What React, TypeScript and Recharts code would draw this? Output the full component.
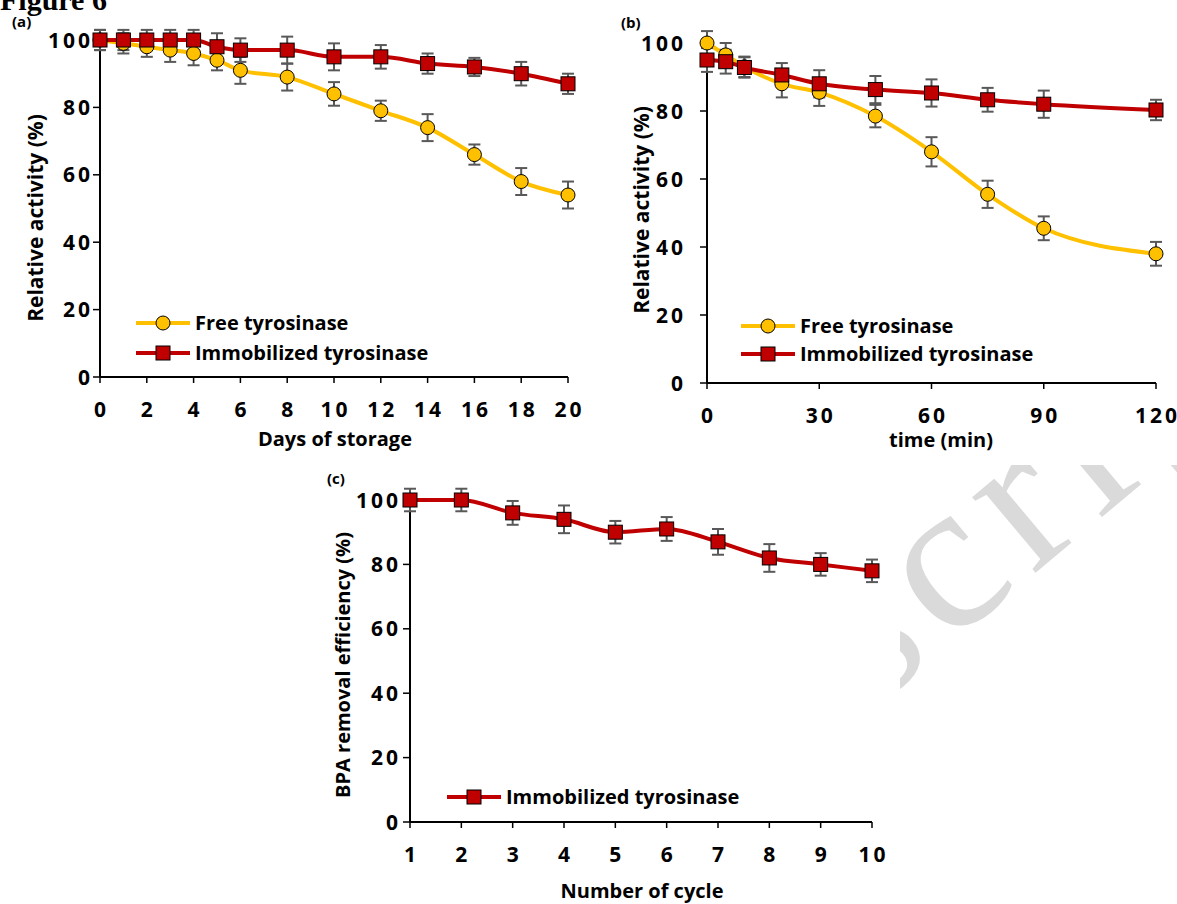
import React from 'react';
import { LineChart, Line, XAxis, YAxis, ErrorBar, ReferenceLine } from 'recharts';

// (a) storage stability
const daysA = [0, 1, 2, 3, 4, 5, 6, 8, 10, 12, 14, 16, 18, 20];
const freeA = [100, 99, 98, 97, 96, 94, 91, 89, 84, 79, 74, 66, 58, 54];
const freeErrA = [3, 3, 3, 3.5, 3.5, 3, 4, 4, 3.5, 3, 4, 3, 4, 4];
const immA = [100, 100, 100, 100, 100, 98, 97, 97, 95, 95, 93, 92, 90, 87];
const immErrA = [3, 3, 3, 3, 3, 4, 3.5, 4, 4, 3.5, 3, 2.7, 3.5, 3];

// (b) activity over time
const timeB = [0, 5, 10, 20, 30, 45, 60, 75, 90, 120];
const freeB = [100, 96.5, 93, 88, 85.5, 78.5, 68, 55.5, 45.5, 38];
const freeErrB = [3.5, 3.5, 3, 4, 4, 3.3, 4.3, 4, 3.5, 3.5];
const immB = [95, 94.5, 92.8, 90.6, 88, 86.3, 85.3, 83.3, 82, 80.3];
const immErrB = [3.5, 3.5, 3, 3.5, 4, 4, 4, 3.5, 4, 3];

// (c) reuse cycles
const cycleC = [1, 2, 3, 4, 5, 6, 7, 8, 9, 10];
const immC = [100, 100, 96, 94, 90, 91, 87, 82, 80, 78];
const immErrC = [3.5, 3.5, 3.7, 4.3, 3.5, 3.7, 4, 4.3, 3.5, 3.5];

const yTicks = [0, 20, 40, 60, 80, 100];
const xTicksA = [0, 2, 4, 6, 8, 10, 12, 14, 16, 18, 20];
const xTicksB = [0, 30, 60, 90, 120];
const xTicksC = [1, 2, 3, 4, 5, 6, 7, 8, 9, 10];

const dataA = daysA.map((d, i) => ({ x: d, free: freeA[i], freeErr: freeErrA[i], imm: immA[i], immErr: immErrA[i] }));
const dataB = timeB.map((t, i) => ({ x: t, free: freeB[i], freeErr: freeErrB[i], imm: immB[i], immErr: immErrB[i] }));
const dataC = cycleC.map((c, i) => ({ x: c, imm: immC[i], immErr: immErrC[i] }));

const FONT = "'Open Sans', sans-serif";
const YELLOW = '#FFC000';
const RED = '#C00000';
const GREY = '#595959';

const tickStyle = { fontFamily: FONT, fontWeight: 700, fontSize: 21, letterSpacing: 3, fill: '#000' };

const yTick = (shift: number) => (p: any) => (
  <text x={p.x + shift} y={p.y} dy="0.36em" textAnchor="end" style={tickStyle}>
    {p.payload.value}
  </text>
);

const xTick = (p: any) => (
  <text x={p.x + 1.5} y={p.y} dy={34} textAnchor="middle" style={tickStyle}>
    {p.payload.value}
  </text>
);

const squareDot = (p: any) => {
  if (p.cx == null || p.cy == null) return <g key={`sq-${p.index}`} />;
  return (
    <rect key={`sq-${p.index}`} x={p.cx - 7} y={p.cy - 7} width={14} height={14}
      fill={RED} stroke="#000" strokeWidth={1} />
  );
};

const circleDot = { r: 7, fill: YELLOW, stroke: '#000', strokeWidth: 1 };

interface PanelProps {
  data: any[];
  width: number;
  height: number;
  margin: { top: number; right: number; bottom: number; left: number };
  xDomain: [number, number];
  xTicks: number[];
  yShift: number;
  showFree: boolean;
}

function Panel({ data, width, height, margin, xDomain, xTicks, yShift, showFree }: PanelProps) {
  return (
    <LineChart width={width} height={height} data={data} margin={margin}>
      <XAxis
        type="number"
        dataKey="x"
        domain={xDomain}
        ticks={xTicks}
        interval={0}
        height={60}
        axisLine={{ stroke: '#000', strokeWidth: 2 }}
        tickLine={{ stroke: '#000', strokeWidth: 1.5 }}
        tickSize={6}
        tickMargin={0}
        tick={xTick}
      />
      <YAxis
        type="number"
        domain={[0, 110]}
        ticks={yTicks}
        interval={0}
        width={60}
        axisLine={false}
        tickLine={{ stroke: '#000', strokeWidth: 1.5 }}
        tickSize={7}
        tickMargin={0}
        tick={yTick(yShift)}
      />
      {/* y axis line only up to 100, the extra headroom keeps error bars unclipped */}
      <ReferenceLine segment={[{ x: xDomain[0], y: 0 }, { x: xDomain[0], y: 100 }]} stroke="#000" strokeWidth={2} />
      {showFree && (
        <Line type="monotone" dataKey="free" stroke={YELLOW} strokeWidth={4} dot={circleDot}
          activeDot={false} isAnimationActive={false}>
          <ErrorBar dataKey="freeErr" direction="y" width={6} stroke={GREY} strokeWidth={2} />
        </Line>
      )}
      <Line type="monotone" dataKey="imm" stroke={RED} strokeWidth={4} dot={squareDot}
        activeDot={false} isAnimationActive={false}>
        <ErrorBar dataKey="immErr" direction="y" width={6} stroke={GREY} strokeWidth={2} />
      </Line>
    </LineChart>
  );
}

const labelStyle = { fontFamily: FONT, fontWeight: 700, fill: '#000' } as const;

function LegendRow({ x, y, kind, text }: { x: number; y: number; kind: 'free' | 'imm'; text: string }) {
  const color = kind === 'free' ? YELLOW : RED;
  return (
    <g>
      <line x1={x} x2={x + 54} y1={y} y2={y} stroke={color} strokeWidth={4} />
      {kind === 'free' ? (
        <circle cx={x + 27} cy={y} r={7} fill={YELLOW} stroke="#000" strokeWidth={1} />
      ) : (
        <rect x={x + 20} y={y - 7} width={14} height={14} fill={RED} stroke="#000" strokeWidth={1} />
      )}
      <text x={x + 59} y={y + 7} style={{ ...labelStyle, fontSize: 20 }}>{text}</text>
    </g>
  );
}

export default function App() {
  return (
    <div style={{ position: 'absolute', left: 0, top: 0, width: 1177, height: 904, background: '#fff', overflow: 'hidden' }}>
      <div style={{ position: 'absolute', left: 0, top: 0 }}>
        <Panel data={dataA} width={600} height={470}
          margin={{ top: 6.3, right: 32, left: 40, bottom: 33 }}
          xDomain={[0, 20]} xTicks={xTicksA} yShift={0} showFree />
      </div>
      <div style={{ position: 'absolute', left: 600, top: 0 }}>
        <Panel data={dataB} width={577} height={470}
          margin={{ top: 9, right: 21, left: 47, bottom: 27 }}
          xDomain={[0, 120]} xTicks={xTicksB} yShift={-14} showFree />
      </div>
      <div style={{ position: 'absolute', left: 300, top: 440 }}>
        <Panel data={dataC} width={600} height={450}
          margin={{ top: 27.8, right: 28, left: 50, bottom: 8 }}
          xDomain={[1, 10]} xTicks={xTicksC} yShift={-2} showFree={false} />
      </div>

      <svg width={1177} height={904} style={{ position: 'absolute', left: 0, top: 0, pointerEvents: 'none' }}>
        <defs>
          <clipPath id="wm-clip">
            <rect x={900} y={465} width={277} height={439} />
          </clipPath>
        </defs>
        <g clipPath="url(#wm-clip)">
          <text transform="translate(872,710) rotate(-40)" fontFamily="'Liberation Serif', serif"
            fontSize={215} letterSpacing={15} fill="#dadada">script</text>
        </g>

        <text x={0} y={10} fontFamily="'Liberation Serif', serif" fontWeight={700} fontSize={30} fill="#000">Figure 6</text>

        <text x={12} y={27} style={{ ...labelStyle, fontSize: 15 }}>(a)</text>
        <text x={621} y={28} style={{ ...labelStyle, fontSize: 15 }}>(b)</text>
        <text x={327} y={484} style={{ ...labelStyle, fontSize: 15 }}>(c)</text>

        <text x={335} y={446} textAnchor="middle" style={{ ...labelStyle, fontSize: 20 }}>Days of storage</text>
        <text x={941} y={447} textAnchor="middle" style={{ ...labelStyle, fontSize: 20 }}>time (min)</text>
        <text x={642} y={898} textAnchor="middle" style={{ ...labelStyle, fontSize: 20 }}>Number of cycle</text>

        <text transform="translate(43,218) rotate(-90)" textAnchor="middle" style={{ ...labelStyle, fontSize: 21 }}>Relative activity (%)</text>
        <text transform="translate(649,210) rotate(-90)" textAnchor="middle" style={{ ...labelStyle, fontSize: 21 }}>Relative activity (%)</text>
        <text transform="translate(350,665) rotate(-90)" textAnchor="middle" style={{ ...labelStyle, fontSize: 20 }}>BPA removal efficiency (%)</text>

        <LegendRow x={136} y={323} kind="free" text="Free tyrosinase" />
        <LegendRow x={136} y={353} kind="imm" text="Immobilized tyrosinase" />
        <LegendRow x={741} y={326} kind="free" text="Free tyrosinase" />
        <LegendRow x={741} y={354} kind="imm" text="Immobilized tyrosinase" />
        <LegendRow x={447} y={797} kind="imm" text="Immobilized tyrosinase" />
      </svg>
    </div>
  );
}
